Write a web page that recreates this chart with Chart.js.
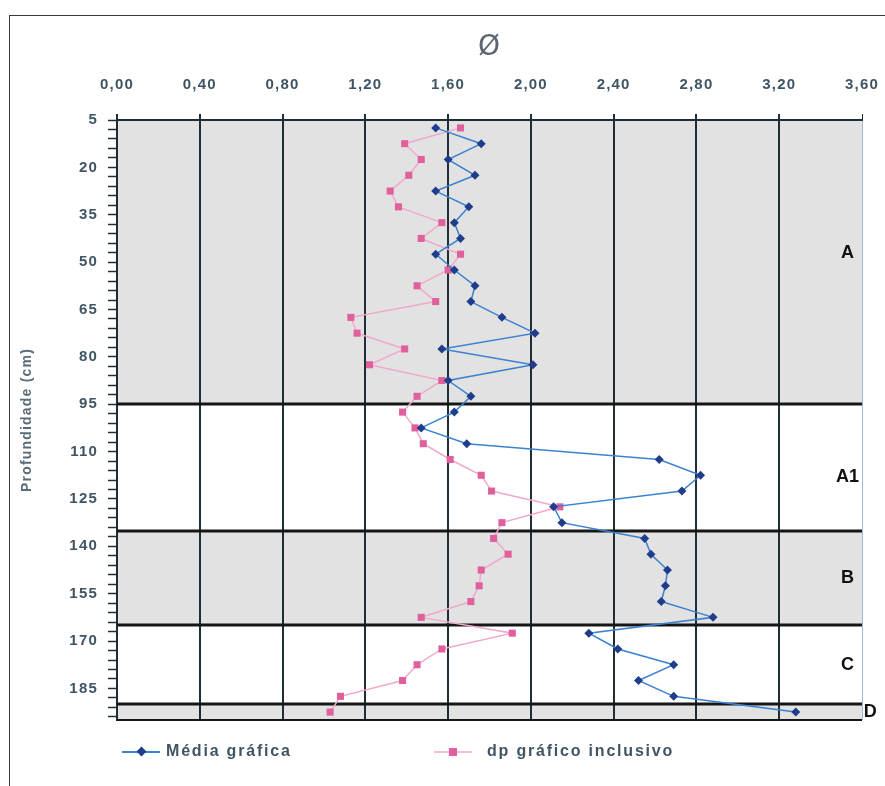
<!DOCTYPE html>
<html>
<head>
<meta charset="utf-8">
<script src="https://cdn.jsdelivr.net/npm/chart.js@4.4.0/dist/chart.umd.min.js"></script>
<style>
  html, body { margin: 0; padding: 0; background: #fff; }
  #wrap { position: relative; width: 885px; height: 786px; overflow: hidden; background: #fff; }
  #frame { position: absolute; left: 9px; top: 15px; width: 900px; height: 800px;
           border-left: 1px solid #3a3a3a; border-top: 1px solid #3a3a3a; }
  #chart { position: absolute; left: 0; top: 0; }
  .leg { position: absolute; top: 742px; height: 20px; line-height: 20px;
         font: bold 16px "Liberation Sans", Arial, sans-serif; letter-spacing: 1.8px; color: #3f5564; }
  .leg .ln { position: absolute; top: 9px; height: 2px; }
  .leg .mk { position: absolute; width: 7px; height: 7px; }
  .leg .tx { position: absolute; white-space: nowrap; }
</style>
</head>
<body>
<div id="wrap">
  <div id="frame"></div>
  <canvas id="chart" width="885" height="786"></canvas>
  <div class="leg" style="left:122px">
    <span class="ln" style="left:0;width:38px;background:#3b82d0"></span>
    <span class="mk" style="left:16px;top:6px;background:#1f3d8a;transform:rotate(45deg)"></span>
    <span class="tx" style="left:44px">Média gráfica</span>
  </div>
  <div class="leg" style="left:434px">
    <span class="ln" style="left:0;width:38px;background:#f6c0da"></span>
    <span class="mk" style="left:15px;top:6px;width:8px;height:8px;background:#e0609e"></span>
    <span class="tx" style="left:53px">dp gráfico inclusivo</span>
  </div>
</div>
<script>
// depth of each sample (cm)
const depths = [7.5, 12.5, 17.5, 22.5, 27.5, 32.5, 37.5, 42.5, 47.5, 52.5,
                57.5, 62.5, 67.5, 72.5, 77.5, 82.5, 87.5, 92.5, 97.5, 102.5,
                107.5, 112.5, 117.5, 122.5, 127.5, 132.5, 137.5, 142.5, 147.5, 152.5,
                157.5, 162.5, 167.5, 172.5, 177.5, 182.5, 187.5, 192.5];
const mediaGrafica = [1.54, 1.76, 1.60, 1.73, 1.54, 1.70, 1.63, 1.66, 1.54, 1.63,
                      1.73, 1.71, 1.86, 2.02, 1.57, 2.01, 1.60, 1.71, 1.63, 1.47,
                      1.69, 2.62, 2.82, 2.73, 2.11, 2.15, 2.55, 2.58, 2.66, 2.65,
                      2.63, 2.88, 2.28, 2.42, 2.69, 2.52, 2.69, 3.28];
const dpGrafico = [1.66, 1.39, 1.47, 1.41, 1.32, 1.36, 1.57, 1.47, 1.66, 1.60,
                   1.45, 1.54, 1.13, 1.16, 1.39, 1.22, 1.57, 1.45, 1.38, 1.44,
                   1.48, 1.61, 1.76, 1.81, 2.14, 1.86, 1.82, 1.89, 1.76, 1.75,
                   1.71, 1.47, 1.91, 1.57, 1.45, 1.38, 1.08, 1.03];

const xTicks = [0, 0.4, 0.8, 1.2, 1.6, 2.0, 2.4, 2.8, 3.2, 3.6];
const depthTicks = [5, 20, 35, 50, 65, 80, 95, 110, 125, 140, 155, 170, 185];

// soil horizons
const zoneNames = ['A', 'A1', 'B', 'C', 'D'];
const zoneTop = [5, 95, 135, 165, 190];
const zoneBottom = [95, 135, 165, 190, 195];
const zoneShaded = [true, false, true, false, true];
const zoneLabelDepth = [47, 118, 150, 177.5, 192.5];
const zoneLabelX = [3.53, 3.53, 3.53, 3.53, 3.64];

const TEXT = '#3f5564';
const LINE = '#1f2d34';
const tickFont = { family: '"Liberation Sans", Arial, sans-serif', size: 15, weight: 'bold' };

// minor ticks every 3 cm on the depth axis
const depthMinor = [];
for (let d = 5; d < 195; d += 3) depthMinor.push(d);

const spacing = {
  id: 'spacing',
  beforeUpdate(chart) { chart.ctx.letterSpacing = '1.2px'; },
  beforeDraw(chart) { chart.ctx.letterSpacing = '1.2px'; },
};

const horizons = {
  id: 'horizons',
  beforeDraw(chart) {
    const { ctx, chartArea, scales: { y } } = chart;
    ctx.save();
    ctx.fillStyle = '#e2e2e2';
    zoneNames.forEach((name, i) => {
      if (!zoneShaded[i]) return;
      const top = y.getPixelForValue(zoneTop[i]);
      const bottom = y.getPixelForValue(zoneBottom[i]);
      ctx.fillRect(chartArea.left, top, chartArea.right - chartArea.left, bottom - top);
    });
    ctx.restore();
  },
  beforeDatasetsDraw(chart) {
    const { ctx, chartArea, scales: { y } } = chart;
    ctx.save();
    ctx.strokeStyle = '#161616';
    zoneBottom.forEach((d, i) => {
      const py = Math.round(y.getPixelForValue(d));
      ctx.lineWidth = i === zoneBottom.length - 1 ? 2 : 3;
      ctx.beginPath();
      ctx.moveTo(chartArea.left, py);
      ctx.lineTo(chartArea.right, py);
      ctx.stroke();
    });
    ctx.restore();
  },
  afterDraw(chart) {
    const { ctx, scales: { x, y } } = chart;
    ctx.save();
    ctx.letterSpacing = '0px';
    ctx.fillStyle = '#111';
    ctx.font = 'bold 18px "Liberation Sans", Arial, sans-serif';
    ctx.textAlign = 'center';
    ctx.textBaseline = 'middle';
    zoneNames.forEach((name, i) => {
      ctx.fillText(name, x.getPixelForValue(zoneLabelX[i]), y.getPixelForValue(zoneLabelDepth[i]));
    });
    ctx.restore();
  },
};

new Chart(document.getElementById('chart'), {
  type: 'scatter',
  data: {
    datasets: [
      {
        label: 'Média gráfica',
        data: depths.map((d, i) => ({ x: mediaGrafica[i], y: d })),
        showLine: true,
        borderColor: '#3b82d0',
        borderWidth: 1.5,
        backgroundColor: '#1f3d8a',
        pointBorderColor: '#1f3d8a',
        pointStyle: 'rectRot',
        pointRadius: 4.5,
        pointBorderWidth: 0,
      },
      {
        label: 'dp gráfico inclusivo',
        data: depths.map((d, i) => ({ x: dpGrafico[i], y: d })),
        showLine: true,
        borderColor: '#f2a8cb',
        borderWidth: 1.5,
        backgroundColor: '#e0609e',
        pointBorderColor: '#e0609e',
        pointStyle: 'rect',
        pointRadius: 5,
        pointBorderWidth: 0,
      },
    ],
  },
  options: {
    responsive: false,
    animation: false,
    devicePixelRatio: 1,
    layout: { padding: { left: 0, top: 0, right: 23, bottom: 66 } },
    plugins: { legend: { display: false }, tooltip: { enabled: false } },
    scales: {
      x: {
        type: 'linear',
        position: 'top',
        min: 0,
        max: 3.6,
        afterBuildTicks(scale) { scale.ticks = xTicks.map(v => ({ value: v })); },
        afterFit(scale) {
          scale.height = 120;
          scale.paddingLeft = 0;
          scale.paddingRight = 0;
        },
        ticks: {
          autoSkip: false,
          maxRotation: 0,
          padding: 20,
          color: TEXT,
          font: tickFont,
          callback: v => v.toFixed(2).replace('.', ','),
        },
        grid: {
          color: c => (c.index === xTicks.length - 1 ? '#9cc0d6' : LINE),
          lineWidth: c => (c.index === xTicks.length - 1 ? 1 : 2),
          tickLength: 6,
          tickColor: LINE,
        },
        border: { color: LINE, width: 2 },
        title: {
          display: true,
          text: 'Ø',
          color: '#5c6670',
          font: { family: '"DejaVu Sans", sans-serif', size: 28 },
          padding: { top: 31, bottom: 0 },
        },
      },
      y: {
        type: 'linear',
        reverse: true,
        min: 5,
        max: 195,
        afterBuildTicks(scale) { scale.ticks = depthMinor.map(v => ({ value: v })); },
        afterFit(scale) { scale.width = 117; },
        ticks: {
          autoSkip: false,
          padding: 10,
          color: TEXT,
          font: tickFont,
          callback: v => (depthTicks.includes(v) ? String(v) : ''),
        },
        grid: {
          drawOnChartArea: false,
          drawTicks: true,
          tickLength: 9,
          tickColor: LINE,
          tickWidth: 1.5,
        },
        border: { color: LINE, width: 2 },
        title: {
          display: true,
          text: 'Profundidade (cm)',
          color: '#5a6c78',
          font: { family: '"Liberation Sans", Arial, sans-serif', size: 14, weight: 'bold' },
          padding: { top: 19, bottom: 0 },
        },
      },
    },
  },
  plugins: [spacing, horizons],
});
</script>
</body>
</html>
